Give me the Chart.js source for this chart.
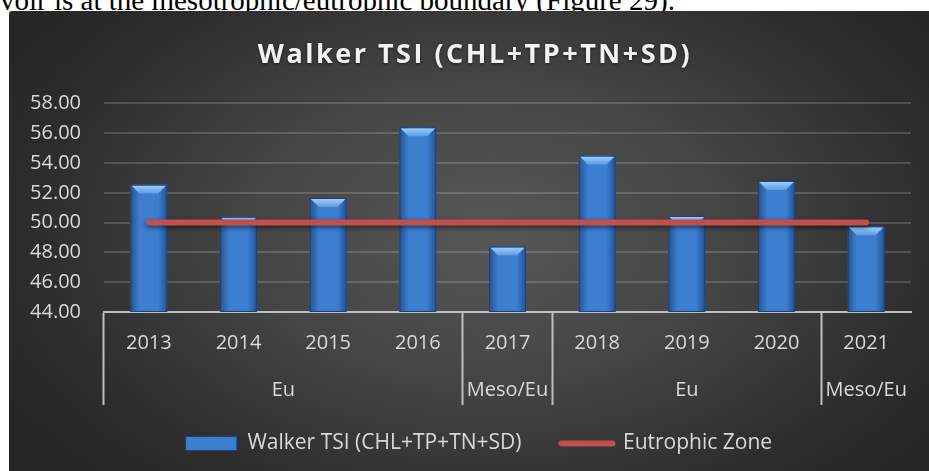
<!DOCTYPE html>
<html lang="en">
<head>
    <meta charset="UTF-8">
    <title>Walker TSI (CHL+TP+TN+SD)</title>
    <script src="https://cdn.jsdelivr.net/npm/chart.js"></script>
    <style>
        body {
            margin: 0;
            background: #ffffff;
            width: 929px;
            height: 471px;
            overflow: hidden;
            position: relative;
        }
        .caption {
            position: absolute;
            left: 0;
            top: -14px;
            font-family: "Liberation Serif", serif;
            font-size: 29px;
            line-height: 28px;
            color: #000;
            white-space: nowrap;
        }
        .chart-container {
            position: absolute;
            left: 9px;
            top: 11px;
            width: 920px;
            height: 460px;
            border-top-left-radius: 3px;
            background: radial-gradient(ellipse 60% 75% at 52% 48%, #575757 0%, #444444 45%, #2e2e2e 80%, #262626 100%);
        }
    </style>
</head>
<body>
    <div class="caption">voir is at the mesotrophic/eutrophic boundary (Figure 29).</div>
    <div class="chart-container">
        <canvas id="tsiChart" width="920" height="460"></canvas>
    </div>

    <script>
        // chart values
        const years = ['2013', '2014', '2015', '2016', '2017', '2018', '2019', '2020', '2021'];
        const zones = ['Eu', 'Eu', 'Eu', 'Eu', 'Meso/Eu', 'Eu', 'Eu', 'Eu', 'Meso/Eu'];
        const walkerTsi = [52.55, 50.4, 51.65, 56.4, 48.4, 54.5, 50.45, 52.8, 49.75];
        const eutrophicZone = [50, 50, 50, 50, 50, 50, 50, 50, 50];
        const yTicks = [44, 46, 48, 50, 52, 54, 56, 58];

        const textColor = '#d9d9d9';
        const axisGrey = '#bfbfbf';

        // true where a grid line sits between two zone groups (or at the ends)
        function isZoneEdge(i) {
            return i === 0 || i >= years.length || zones[i] !== zones[i - 1];
        }

        // shading + bevel on top of each bar, using the bar elements' own geometry
        const barBevel = {
            id: 'barBevel',
            afterDatasetDraw(chart, args) {
                if (args.index !== 0) return;
                const ctx = chart.ctx;
                const area = chart.chartArea;
                args.meta.data.forEach(bar => {
                    const p = bar.getProps(['x', 'y', 'base', 'width'], true);
                    const l = p.x - p.width / 2, r = p.x + p.width / 2;
                    const bottom = Math.min(p.base, area.bottom);
                    const side = ctx.createLinearGradient(l, 0, r, 0);
                    side.addColorStop(0, 'rgba(10,30,70,0.45)');
                    side.addColorStop(0.25, 'rgba(10,30,70,0)');
                    side.addColorStop(0.75, 'rgba(10,30,70,0)');
                    side.addColorStop(1, 'rgba(10,30,70,0.45)');
                    ctx.save();
                    ctx.fillStyle = side;
                    ctx.fillRect(l, p.y, p.width, bottom - p.y);
                    const b = 9;
                    const top = ctx.createLinearGradient(0, p.y, 0, p.y + b);
                    top.addColorStop(0, '#a9d4fa');
                    top.addColorStop(1, '#5b9be4');
                    ctx.fillStyle = top;
                    ctx.beginPath();
                    ctx.moveTo(l + 1, p.y + 1);
                    ctx.lineTo(r - 1, p.y + 1);
                    ctx.lineTo(r - b, p.y + b);
                    ctx.lineTo(l + b, p.y + b);
                    ctx.closePath();
                    ctx.fill();
                    ctx.strokeStyle = '#1d4177';
                    ctx.lineWidth = 1;
                    ctx.strokeRect(l + 0.5, p.y + 0.5, p.width - 1, bottom - p.y - 1);
                    ctx.restore();
                });
            }
        };

        // soft shadow under the red line
        const lineShadow = {
            id: 'lineShadow',
            beforeDatasetDraw(chart, args) {
                if (args.index !== 1) return;
                const ctx = chart.ctx;
                ctx.save();
                ctx.shadowColor = 'rgba(0,0,0,0.55)';
                ctx.shadowBlur = 5;
                ctx.shadowOffsetY = 2;
            },
            afterDatasetDraw(chart, args) {
                if (args.index !== 1) return;
                chart.ctx.restore();
            }
        };

        // the original chart is cropped on the right, so its title and legend
        // sit a little right of this canvas' centre; also add title tracking
        function nudge(block, dx, extra) {
            if (!block || block._nudged) return;
            const draw = block.draw.bind(block);
            block.draw = function() {
                const c = block.ctx;
                c.save();
                c.translate(dx, 0);
                if (extra) extra(c);
                draw();
                c.restore();
            };
            block._nudged = true;
        }
        const blockNudge = {
            id: 'blockNudge',
            beforeDraw(chart) {
                nudge(chart.titleBlock, 15, c => {
                    c.letterSpacing = '2.5px';
                    c.shadowColor = 'rgba(0,0,0,0.5)';
                    c.shadowBlur = 3;
                    c.shadowOffsetY = 1;
                });
                nudge(chart.legend, 19);
            }
        };

        // second row of category labels (zone groups)
        const zoneLabels = {
            id: 'zoneLabels',
            afterDraw(chart) {
                const x = chart.scales.x;
                const ctx = chart.ctx;
                ctx.save();
                ctx.font = '20px "Open Sans"';
                ctx.fillStyle = textColor;
                ctx.textAlign = 'center';
                ctx.textBaseline = 'middle';
                let start = 0;
                for (let i = 1; i <= zones.length; i++) {
                    if (i === zones.length || zones[i] !== zones[start]) {
                        const cx = (x.getPixelForValue(start) + x.getPixelForValue(i - 1)) / 2;
                        ctx.fillText(zones[start], cx, x.top + 78);
                        start = i;
                    }
                }
                ctx.restore();
            }
        };

        const ctx = document.getElementById('tsiChart').getContext('2d');

        const tsiChart = new Chart(ctx, {
            type: 'bar',
            data: {
                labels: years,
                datasets: [{
                    label: 'Walker TSI (CHL+TP+TN+SD)',
                    data: walkerTsi,
                    backgroundColor: '#3c7ed0',
                    borderWidth: 0,
                    categoryPercentage: 1,
                    barPercentage: 0.41,
                    pointStyle: 'rect',
                    order: 1
                }, {
                    type: 'line',
                    label: 'Eutrophic Zone',
                    data: eutrophicZone,
                    borderColor: '#c0504d',
                    backgroundColor: '#c0504d',
                    borderWidth: 6,
                    borderCapStyle: 'round',
                    pointRadius: 0,
                    pointHoverRadius: 0,
                    pointStyle: 'line',
                    fill: false,
                    order: 0
                }]
            },
            options: {
                responsive: false,
                animation: false,
                layout: {
                    padding: { left: 0, right: 18, top: 0, bottom: 7 }
                },
                plugins: {
                    title: {
                        display: true,
                        text: 'Walker TSI (CHL+TP+TN+SD)',
                        color: '#f2f2f2',
                        font: { family: '"Open Sans"', size: 27, weight: 'bold' },
                        padding: { top: 28, bottom: 32 }
                    },
                    legend: {
                        display: true,
                        position: 'bottom',
                        labels: {
                            color: textColor,
                            font: { family: '"Open Sans"', size: 21 },
                            usePointStyle: true,
                            pointStyleWidth: 51,
                            boxHeight: 14,
                            padding: 40,
                            generateLabels(chart) {
                                return chart.data.datasets.map((ds, i) => ({
                                    text: ds.label,
                                    datasetIndex: i,
                                    fillStyle: i === 0 ? '#3c7ed0' : '#c0504d',
                                    strokeStyle: i === 0 ? '#1d4177' : '#c0504d',
                                    lineWidth: i === 0 ? 1 : 6,
                                    lineCap: 'round',
                                    pointStyle: ds.pointStyle,
                                    fontColor: textColor
                                }));
                            }
                        }
                    },
                    tooltip: { enabled: false }
                },
                scales: {
                    x: {
                        border: { display: true, color: axisGrey, width: 2 },
                        grid: {
                            offset: true,
                            drawOnChartArea: false,
                            drawTicks: true,
                            tickLength: 93,
                            tickWidth: 2,
                            tickColor: c => isZoneEdge(c.index) ? axisGrey : 'rgba(0,0,0,0)'
                        },
                        ticks: {
                            color: textColor,
                            font: { family: '"Open Sans"', size: 20 },
                            padding: -74,
                            maxRotation: 0
                        },
                        afterFit(scale) { scale.height = 81; }
                    },
                    y: {
                        min: yTicks[0],
                        max: yTicks[yTicks.length - 1],
                        border: { display: false },
                        grid: {
                            color: 'rgba(255,255,255,0.16)',
                            lineWidth: 2,
                            drawTicks: false
                        },
                        afterBuildTicks(scale) {
                            scale.ticks = yTicks.map(v => ({ value: v }));
                        },
                        ticks: {
                            color: textColor,
                            font: { family: '"Open Sans"', size: 20 },
                            padding: 23,
                            callback: v => v.toFixed(2)
                        },
                        afterFit(scale) { scale.width = 95; }
                    }
                }
            },
            plugins: [barBevel, lineShadow, blockNudge, zoneLabels]
        });
    </script>
</body>
</html>
